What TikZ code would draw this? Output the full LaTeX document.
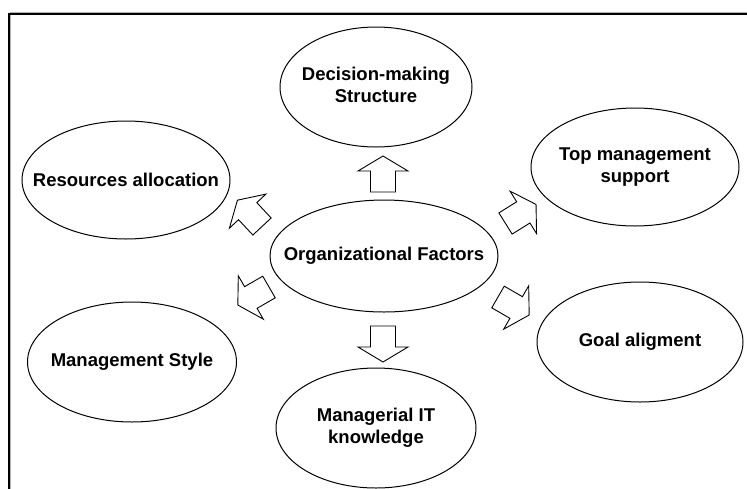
\documentclass[tikz,border=0pt]{standalone}
\usepackage{fontspec}
\setmainfont{Liberation Sans}
\usetikzlibrary{shapes.geometric}
\usetikzlibrary{calc}
\newcommand{\onel}[1]{\makebox[0pt]{#1}}
\newcommand{\twol}[2]{\makebox[0pt]{\begin{tabular}{@{}c@{}}#1\\#2\end{tabular}}}

\tikzset{
  factor/.style={draw,ellipse,inner sep=0pt,line width=1pt,
    font=\bfseries\fontsize{18.5}{22}\selectfont},
  blockarrow/.pic={
    \draw[line width=0.9pt,miter limit=4]
      (0,-12.5) -- (21,-12.5) -- (21,-25) -- (36,0) -- (21,25) -- (21,12.5) -- (0,12.5) -- cycle;
  }
}

\begin{document}
\begin{tikzpicture}[x=1pt,y=-1pt]
\useasboundingbox (0,0) rectangle (747,488);
\draw[line width=0.8pt,gray!60] (10.1,492) -- (10.1,12.6) -- (751,12.6);
\draw[line width=1.5pt] (9,492) -- (9,14) -- (751,14);

\node[factor,minimum width=228pt,minimum height=112pt] (org) at (384,256) {\onel{Organizational Factors}};
\node[factor,minimum width=192pt,minimum height=120pt] (dec) at (376,87) {\twol{Decision-making}{Structure}};
\node[factor,minimum width=208pt,minimum height=118pt] (res) at (126,180) {\onel{Resources allocation}};
\node[factor,minimum width=208pt,minimum height=118pt] (top) at (635,167) {\twol{Top management}{support}};
\node[factor,minimum width=206pt,minimum height=120pt] (goal) at (640,342) {\onel{Goal aligment}};
\node[factor,minimum width=209pt,minimum height=120pt] (style) at (132,362) {\onel{Management Style}};
\node[factor,minimum width=200pt,minimum height=120pt] (know) at (376,428) {\twol{Managerial IT}{knowledge}};

\pic[rotate=90] at ($(org)+(-1,-64)$) {blockarrow};
\pic[rotate=-90] at ($(org)+(-1,70)$) {blockarrow};
\pic[rotate=32] at ($(org)+(121.5,-32.5)$) {blockarrow};
\pic[rotate=-30] at ($(org)+(114,41)$) {blockarrow};
\pic[rotate=133] at ($(org)+(-122,-29.5)$) {blockarrow};
\pic[rotate=210] at ($(org)+(-115,31)$) {blockarrow};
\end{tikzpicture}
\end{document}
